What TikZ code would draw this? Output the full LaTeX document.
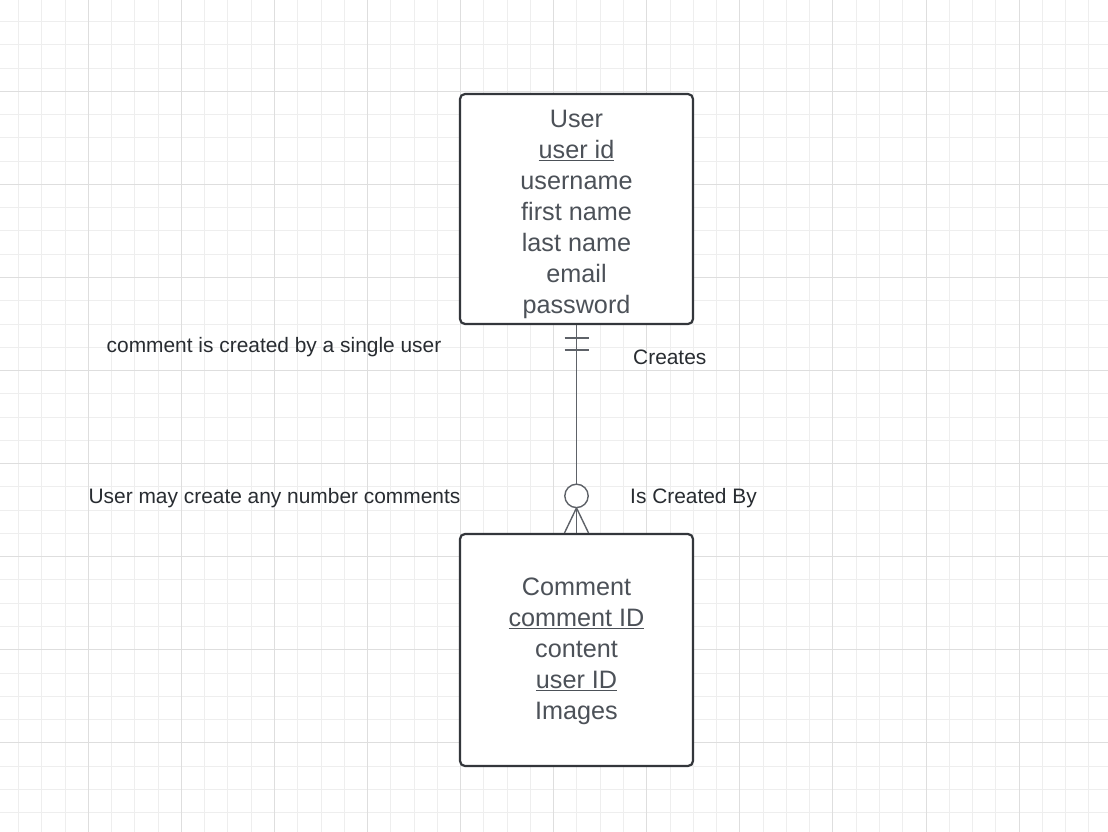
\documentclass[tikz,border=0pt]{standalone}
\usepackage{fontspec}
\setmainfont{Liberation Sans}
\usetikzlibrary{calc}
\definecolor{gridminor}{HTML}{EEEEEE}
\definecolor{gridmajor}{HTML}{DEDEDE}
\definecolor{border}{HTML}{33363B}
\definecolor{boxtext}{HTML}{4C5158}
\definecolor{lbltext}{HTML}{282C31}
\definecolor{connc}{HTML}{5E6268}
\tikzset{
  minorgrid/.style={draw=gridminor, line width=1pt},
  majorgrid/.style={draw=gridmajor, line width=1pt},
  entity/.style={draw=border, line width=2.2pt, rounded corners=5pt, fill=white,
    text=boxtext, align=center, font=\fontsize{25.2}{31}\selectfont,
    minimum width=233pt, inner sep=0pt},
  conn/.style={draw=connc, line width=1.4pt},
  lbl/.style={text=lbltext, font=\fontsize{20.9}{25}\selectfont, inner sep=0pt}
}
\begin{document}
\begin{tikzpicture}[x=1pt,y=-1pt]
\useasboundingbox (0,0) rectangle (1108,832);
\fill[white] (0,0) rectangle (1108,832);
% grid
\foreach \i in {-3,...,44}{
  \draw[minorgrid] ({88.3+23.27*\i},0) -- ({88.3+23.27*\i},832);
}
\foreach \j in {-3,...,33}{
  \draw[minorgrid] (0,{91.3+23.27*\j}) -- (1108,{91.3+23.27*\j});
}
\foreach \i in {0,...,11}{
  \draw[majorgrid] ({88.3+93.08*\i},0) -- ({88.3+93.08*\i},832);
}
\foreach \j in {0,...,8}{
  \draw[majorgrid] (0,{91.3+93.08*\j}) -- (1108,{91.3+93.08*\j});
}
% entities
\node[entity, minimum height=230pt] (user) at (576.5,209)
  {\rule{0pt}{28.6pt}User\\\underline{user id}\\username\\first name\\last name\\email\\password};
\node[entity, minimum height=232pt] (comment) at (576.5,650)
  {\rule{0pt}{19.6pt}Comment\\\underline{comment ID}\\content\\\underline{user ID}\\Images};
% relationship
\draw[conn] (user.south) -- (comment.north);
\draw[conn] ($(user.south)+(-12,13)$) -- ($(user.south)+(12,13)$);
\draw[conn] ($(user.south)+(-12,25)$) -- ($(user.south)+(12,25)$);
\draw[conn] ($(comment.north)+(0,-25)$) -- ($(comment.north)+(-12,0)$);
\draw[conn] ($(comment.north)+(0,-25)$) -- ($(comment.north)+(12,0)$);
\draw[conn, fill=white] ($(comment.north)+(0,-37)$) circle (11.7);
% labels
\node[lbl, anchor=base] (l1) at (274,352) {comment is created by a single user};
\node[lbl, anchor=base west] (l2) at (633,364.5) {Creates};
\node[lbl, anchor=base] (l3) at (274.5,503.5) {User may create any number comments};
\node[lbl, anchor=base west] (l4) at (630,503.5) {Is Created By};
\end{tikzpicture}
\end{document}
